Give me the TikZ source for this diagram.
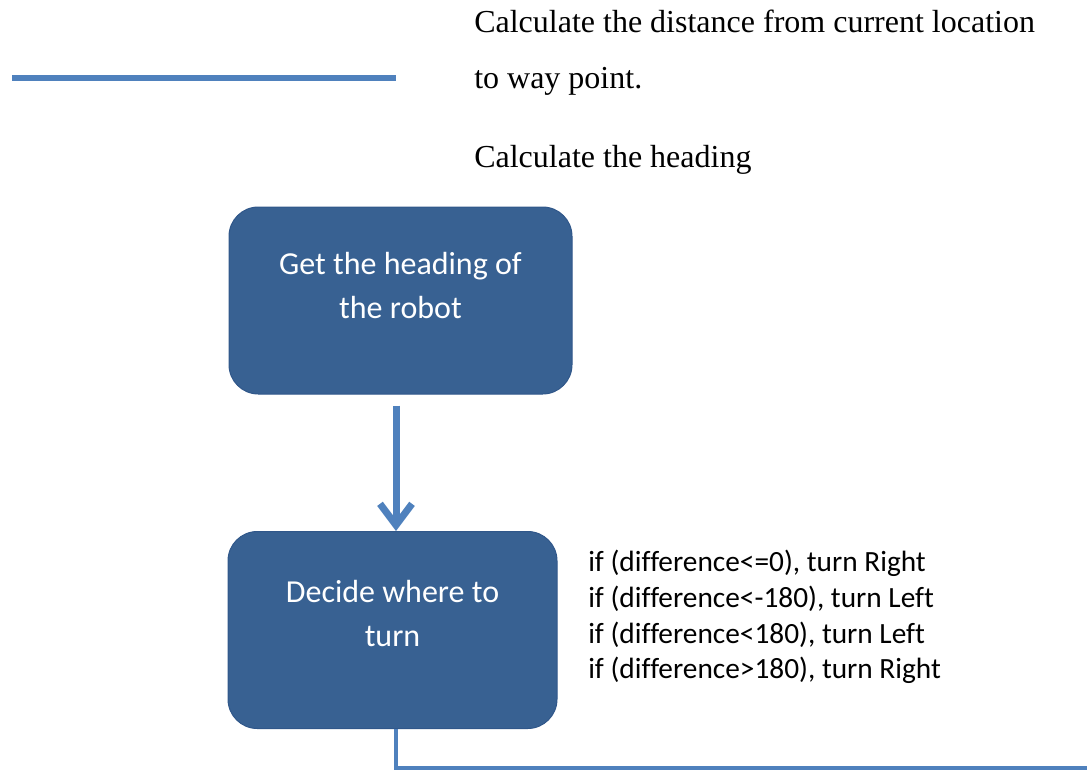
\documentclass[tikz,border=0pt]{standalone}
\usepackage{fontspec}
\setmainfont{Liberation Serif}
\newfontfamily\calibri[Ligatures=NoCommon]{Carlito}
\usetikzlibrary{arrows.meta}
\definecolor{boxblue}{HTML}{386192}
\definecolor{boxedge}{HTML}{30578A}
\definecolor{lineblue}{HTML}{4F81BD}
\begin{document}
\begin{tikzpicture}[x=0.75pt,y=-0.75pt,>={Straight Barb[length=16pt,width=24pt]},
                box node/.style={rectangle,rounded corners=22pt,fill=boxblue,draw=boxedge,line width=0.75pt,inner sep=0pt},
                box text/.style={text=white,align=center,inner sep=0pt,font=\calibri\fontsize{24}{33}\selectfont},
                note/.style={anchor=base west,inner sep=0pt,font=\fontsize{24}{29}\selectfont},
                flow/.style={draw=lineblue}]
  \useasboundingbox (0,0) rectangle (1087,771);

  % text at the top
  \node[note] (dist) at (474,32) {Calculate the distance from current location};
  \node[note] (way) at (474,88) {to way point.};
  \node[note] (calc) at (474,167) {Calculate the heading};
  \coordinate (lineA) at (12,78);
  \coordinate (lineB) at (396,78);
  \draw[flow,line width=4.5pt] (lineA) -- (lineB);

  % the two boxes
  \node[box node,minimum width=257.25pt,minimum height=140.25pt] (heading) at (400.5,300.5) {};
  \node[box text,anchor=north] (headtext) at (400.5,252) {Get the heading of\\the robot};
  \node[box node,minimum width=246.75pt,minimum height=147.75pt] (decide) at (392.5,630) {};
  \node[box text,anchor=north] (decidetext) at (392.5,580) {Decide where to\\turn};
  \node[anchor=north west,inner sep=0pt,align=left,font=\calibri\fontsize{22}{26.8}\selectfont] (rules) at (588,550)
    {if (difference<=0), turn Right\\if (difference<-180), turn Left\\if (difference<180), turn Left\\if (difference>180), turn Right};

  \coordinate (mid) at (396,0);
  \coordinate (exit) at (1090,768);
  \draw[flow,->,line width=5.25pt,shorten <=8.25pt] (heading.south -| mid) -- (decide.north -| mid);
  \draw[flow,line width=3.5pt] (decide.south -| mid) |- (exit);
\end{tikzpicture}
\end{document}
